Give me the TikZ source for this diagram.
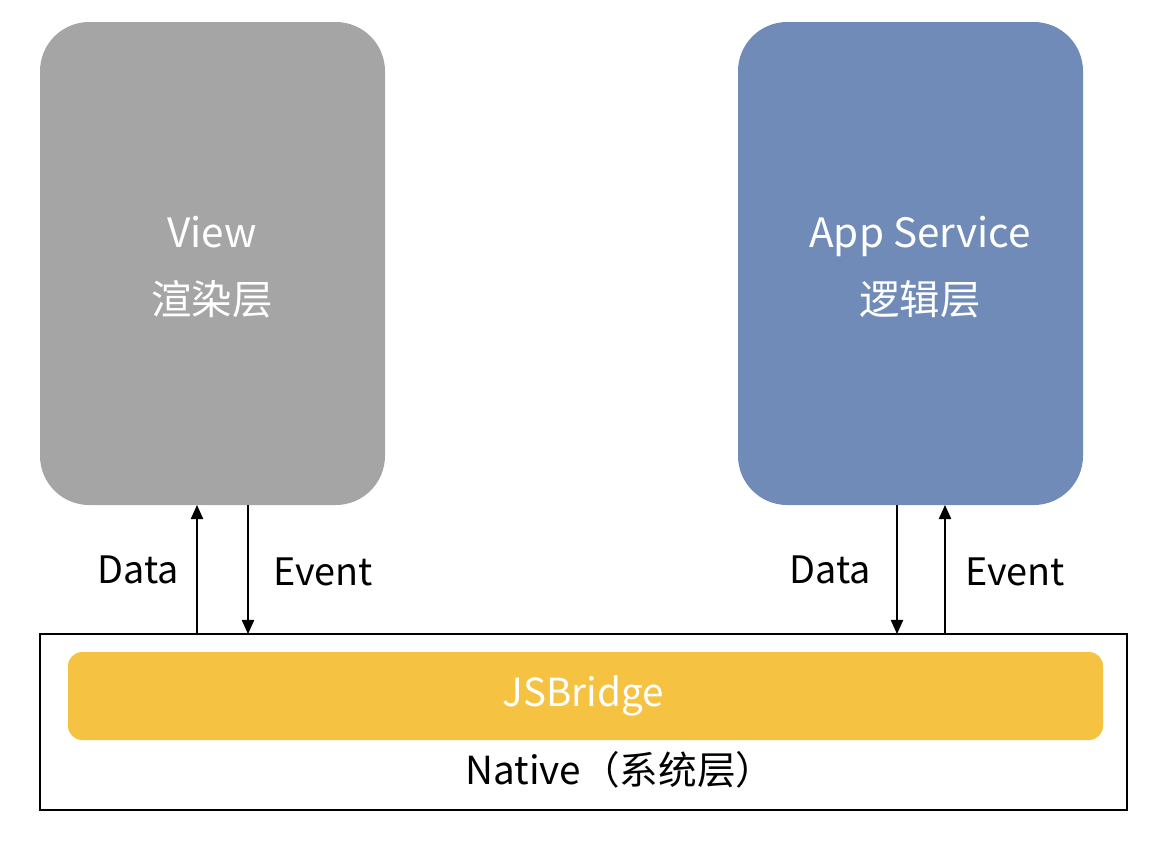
\documentclass[tikz,border=0pt]{standalone}
\usepackage{fontspec}
\setmainfont{Noto Sans CJK SC}
\usetikzlibrary{arrows.meta}
\definecolor{viewgray}{HTML}{A5A5A5}
\definecolor{serviceblue}{HTML}{718BB8}
\definecolor{bridgeyellow}{HTML}{F5C242}
\tikzset{
  layer/.style={text=white, font=\fontsize{23}{30}\selectfont, align=center},
  lbl/.style={font=\fontsize{21.5}{24}\selectfont},
  link/.style={-{Triangle[length=8pt,width=7pt]}, line width=0.8pt},
}
\begin{document}
\begin{tikzpicture}[x=0.02cm, y=-0.02cm]
    \useasboundingbox (0,0) rectangle (1166,846);
    % layers
    \fill[viewgray, rounded corners=28pt] (40,22) rectangle (385,505);
    \fill[serviceblue, rounded corners=28pt] (738,22) rectangle (1083,505);
    \node[layer] (view) at (212,267) {View\\[8pt]渲染层};
    \node[layer] (service) at (920,267) {App Service\\[8pt]逻辑层};
    % native
    \draw[line width=1.6pt] (40,634) rectangle (1127,810);
    \fill[bridgeyellow, rounded corners=8pt] (68,652) rectangle (1103,740);
    \node[text=white, font=\fontsize{22}{24}\selectfont] (bridge) at (583,696) {JSBridge};
    \node[font=\fontsize{22}{24}\selectfont] (native) at (620,770) {Native（系统层）};
    % arrows
    \coordinate (d1a) at (197,634);  \coordinate (d1b) at (197,505);
    \coordinate (e1a) at (248,505);  \coordinate (e1b) at (248,634);
    \coordinate (d2a) at (897,505);  \coordinate (d2b) at (897,634);
    \coordinate (e2a) at (945,634);  \coordinate (e2b) at (945,505);
    \draw[link] (d1a) -- (d1b);
    \draw[link] (e1a) -- (e1b);
    \draw[link] (d2a) -- (d2b);
    \draw[link] (e2a) -- (e2b);
    \node[lbl] (data1) at (138,570) {Data};
    \node[lbl] (event1) at (323,572) {Event};
    \node[lbl] (data2) at (830,570) {Data};
    \node[lbl] (event2) at (1015,572) {Event};
\end{tikzpicture}
\end{document}
